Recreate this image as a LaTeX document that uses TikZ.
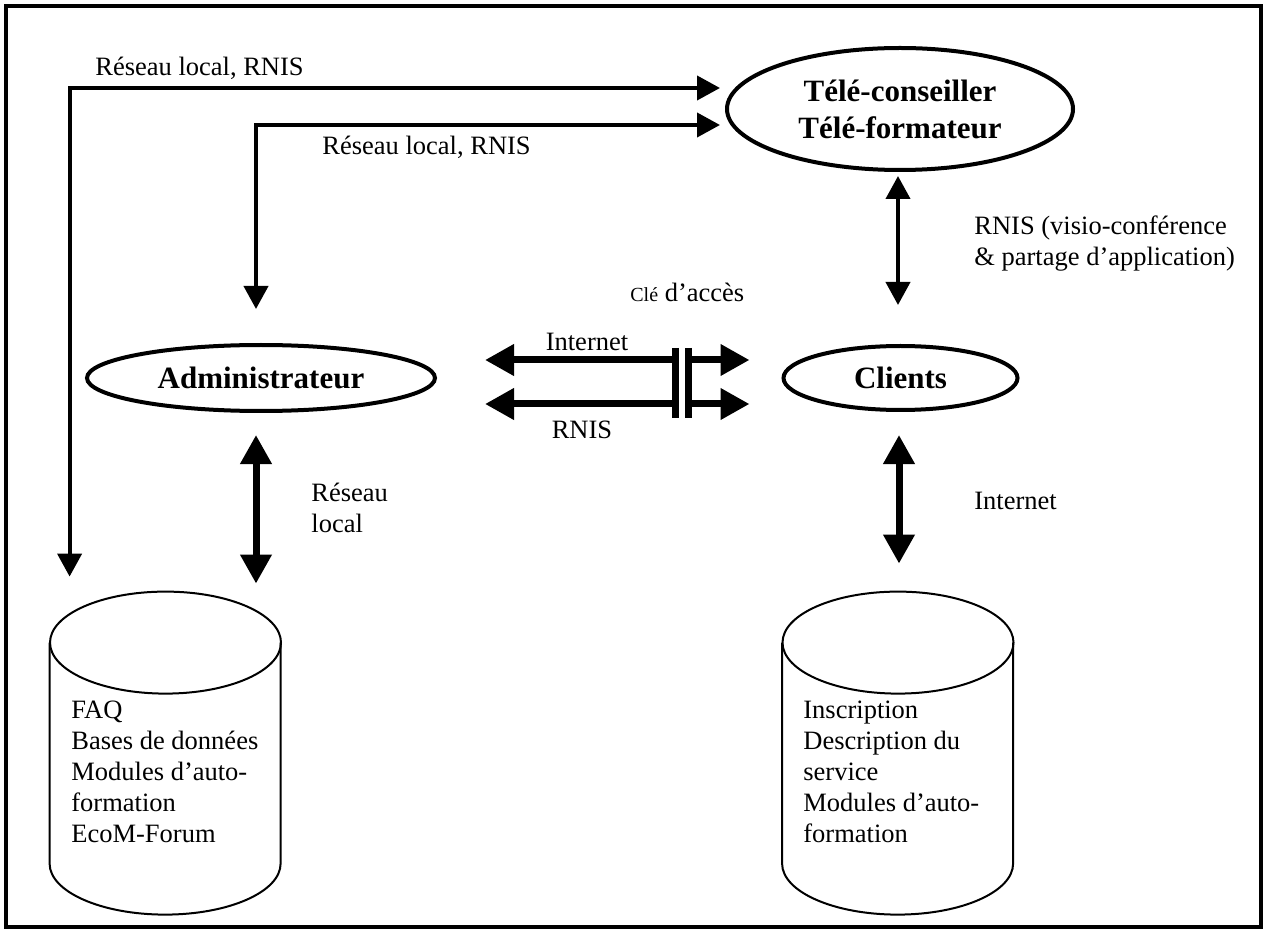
\documentclass[tikz,border=0pt]{standalone}
\usepackage{fontspec}
\setmainfont{Liberation Serif}
\usetikzlibrary{shapes.geometric,arrows.meta,calc}
\begin{document}
\begin{tikzpicture}[x=0.5pt,y=0.5pt,
    role/.style={ellipse, draw, line width=2pt, inner sep=0pt, align=center,
      font=\fontsize{15.5}{18.5}\selectfont\bfseries},
    lbl/.style={anchor=west, inner sep=0pt, align=left, font=\fontsize{13.25}{15.5}\selectfont},
    dbnode/.style={minimum width=115.5pt, minimum height=161.5pt, inner sep=0pt},
    dbline/.style={line width=1pt},
    lnk/.style={line width=2pt, >={Triangle[length=11.5pt,width=12pt]}},
    fat/.style={line width=3.5pt, >={Triangle[length=14.5pt,width=15pt]}},
    keybar/.style={line width=3.5pt}]
  \useasboundingbox (0,0) rectangle (1268,933);
  \draw[line width=2pt] (6,6) rectangle (1261,927);

  \node[role, minimum width=173pt, minimum height=61pt] (tele) at (900,824) {Télé-conseiller\\Télé-formateur};
  \node[role, minimum width=174pt, minimum height=33pt] (admin) at (261,555) {Administrateur};
  \node[role, minimum width=117pt, minimum height=32pt] (clients) at (900.5,555) {Clients};
  \node[dbnode] (dbadmin) at (165.5,179.5) {};
  \node[dbnode] (dbclients) at (898,179.5) {};

  \foreach \db in {dbadmin,dbclients} {
    \draw[dbline] ($(\db.north)+(0,-51)$) ellipse [x radius=57.75pt, y radius=25.5pt];
    \draw[dbline] ($(\db.north west)+(0,-51)$) -- ++(0,-221)
      arc [start angle=180, end angle=360, x radius=57.75pt, y radius=25.5pt] -- ++(0,221);
  }

  \node[lbl, anchor=north west] (dbadmintxt) at (71,232) {FAQ\\Bases de données\\Modules d’auto-\\formation\\EcoM-Forum};
  \node[lbl, anchor=north west] (dbclientstxt) at (803,232) {Inscription\\Description du\\service\\Modules d’auto-\\formation};

  \node[lbl] (lanone) at (95,865) {Réseau local, RNIS};
  \node[lbl] (lantwo) at (322,786) {Réseau local, RNIS};
  \node[lbl] (visio) at (974,689) {RNIS (visio-conférence\\\& partage d’application)};
  \node[lbl] (cle) at (630,641) {{\fontsize{10}{12}\selectfont Clé} d’accès};
  \node[lbl, anchor=center] (inet) at (587,591) {Internet};
  \node[lbl, anchor=center] (rnis) at (582,503) {RNIS};
  \node[lbl] (lanadmin) at (311,425.5) {Réseau\\local};
  \node[lbl] (inetclients) at (974,432) {Internet};

  \draw[lnk,<->] ($(dbadmin.north west)+(20,15)$) |- ($(tele.west)+(-5,21)$);
  \draw[lnk,<->] ($(admin.north)+(-5,34)$) |- ($(tele.west)+(-5,-16)$);
  \draw[lnk,<->] ($(tele.south)+(-2,-4)$) -- ($(clients.north)+(-2.5,39)$);
  \draw[fat,<->] ($(admin.south)+(-5,-22)$) -- ($(dbadmin.north)+(90.5,8)$);
  \draw[fat,<->] ($(clients.south)+(-1.5,-23)$) -- ($(dbclients.north)+(1,28)$);

  \coordinate (keyA) at (675,573);
  \coordinate (keyB) at (688,573);
  \coordinate (keyC) at (675,529);
  \coordinate (keyD) at (688,529);
  \draw[fat,<-,shorten <=24pt] (admin.east |- keyA) -- (keyA);
  \draw[fat,->,shorten >=16pt] (keyB) -- (clients.west |- keyB);
  \draw[fat,<-,shorten <=24pt] (admin.east |- keyC) -- (keyC);
  \draw[fat,->,shorten >=16pt] (keyD) -- (clients.west |- keyD);
  \draw[keybar] ($(keyA)+(0,12)$) -- ($(keyC)+(0,-14)$);
  \draw[keybar] ($(keyB)+(0,12)$) -- ($(keyD)+(0,-14)$);
\end{tikzpicture}
\end{document}
